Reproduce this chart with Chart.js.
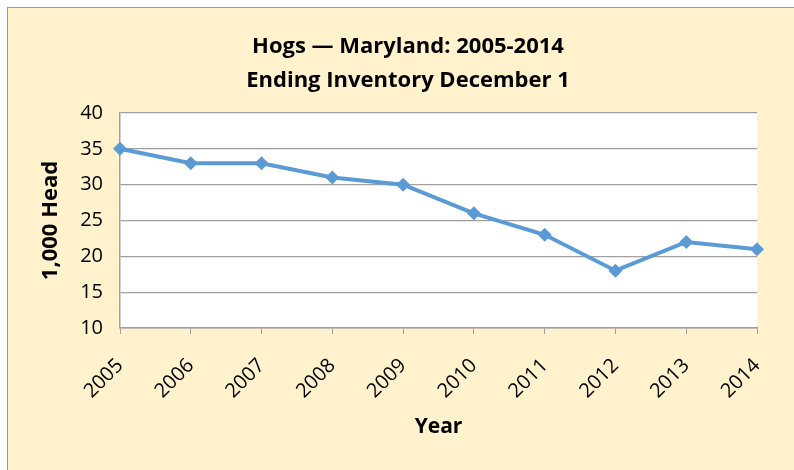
<!DOCTYPE html>
<html>
<head>
<meta charset="utf-8">
<script src="https://cdn.jsdelivr.net/npm/chart.js@4.4.1/dist/chart.umd.min.js"></script>
<style>
  html, body { margin: 0; padding: 0; background: #ffffff; width: 794px; height: 470px; overflow: hidden; }
  #frame { position: absolute; left: 7px; top: 7px; width: 800px; height: 480px; background: #FFF2CC; border-left: 1px solid #9a9a9a; border-top: 1px solid #9a9a9a; }
  #c { position: absolute; left: 1px; top: 0px; }
</style>
</head>
<body>
<div id="frame"><canvas id="c" width="785" height="462"></canvas></div>
<script>
const titleLines = ['Hogs \u2014 Maryland: 2005-2014', 'Ending Inventory December 1'];
const years = ['2005', '2006', '2007', '2008', '2009', '2010', '2011', '2012', '2013', '2014'];
const inventory = [35, 33, 33, 31, 30, 26, 23, 18, 22, 21];
const yMin = 10, yMax = 40, yStep = 5;
const xTitle = 'Year';
const yTitle = '1,000 Head';

const FONT = "'Open Sans', 'Liberation Sans', sans-serif";
const GRID = '#a0a0a0';

const plotBg = {
  id: 'plotBg',
  beforeDraw(chart) {
    const { ctx, chartArea: a } = chart;
    ctx.save();
    ctx.fillStyle = '#ffffff';
    ctx.fillRect(a.left, a.top, a.right - a.left, a.bottom - a.top);
    ctx.restore();
  }
};

const titleDraw = {
  id: 'titleDraw',
  afterDraw(chart) {
    const ctx = chart.ctx;
    ctx.save();
    ctx.fillStyle = '#000000';
    ctx.font = 'bold 22px ' + FONT;
    ctx.textAlign = 'center';
    ctx.textBaseline = 'alphabetic';
    ctx.fillText(titleLines[0], 399, 45);
    ctx.fillText(titleLines[1], 399, 79);
    ctx.restore();
  }
};

new Chart(document.getElementById('c'), {
  type: 'line',
  data: {
    labels: years,
    datasets: [{
      data: inventory,
      borderColor: '#5B9BD5',
      backgroundColor: '#5B9BD5',
      borderWidth: 4,
      pointStyle: 'rectRot',
      pointRadius: 7,
      pointHoverRadius: 7,
      pointBorderWidth: 0,
      tension: 0,
      fill: false
    }]
  },
  options: {
    responsive: false,
    animation: false,
    devicePixelRatio: 1,
    layout: { padding: { left: 29, right: 36, top: 105, bottom: 30 } },
    plugins: {
      legend: { display: false },
      title: { display: false },
      tooltip: { enabled: false }
    },
    scales: {
      x: {
        offset: false,
        afterFit(s) { s.height = 112; },
        grid: { drawOnChartArea: false, drawTicks: true, tickLength: 6, color: GRID },
        border: { color: GRID, width: 1.5 },
        ticks: { color: '#000', font: { family: FONT, size: 20 }, maxRotation: 45, minRotation: 45, padding: 20, autoSkip: false },
        title: { display: true, text: xTitle, color: '#000', font: { family: FONT, size: 21, weight: 'bold' }, padding: 0 }
      },
      y: {
        min: yMin, max: yMax,
        afterFit(s) { s.width = 82; },
        grid: { color: GRID, drawTicks: false, lineWidth: 1.2 },
        border: { color: GRID, width: 1.5 },
        ticks: { stepSize: yStep, color: '#000', font: { family: FONT, size: 20 }, padding: 17 },
        title: { display: true, text: yTitle, color: '#000', font: { family: FONT, size: 22, weight: 'bold' }, padding: 0 }
      }
    }
  },
  plugins: [plotBg, titleDraw]
});
</script>
</body>
</html>
